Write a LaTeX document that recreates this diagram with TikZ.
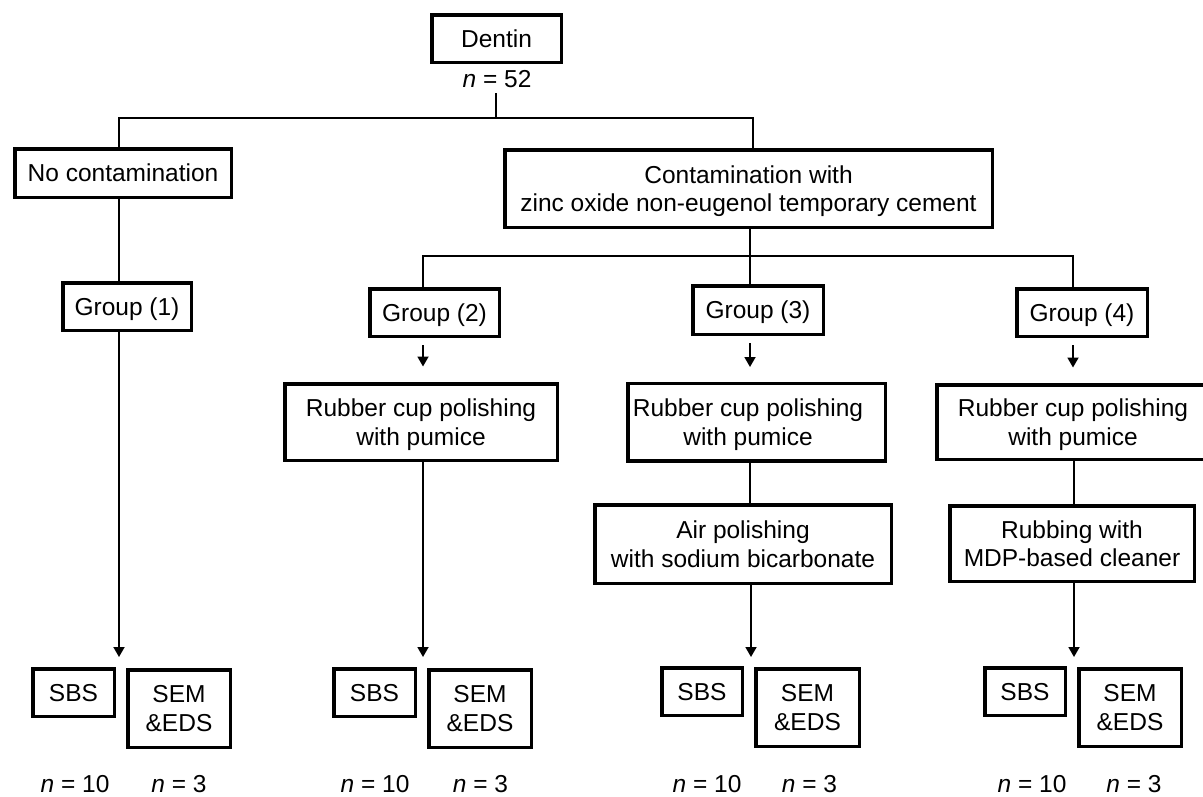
\documentclass[tikz,border=0pt]{standalone}
\usepackage{fontspec}
\setmainfont{Liberation Sans}
\usetikzlibrary{arrows.meta,calc}
\begin{document}
\begin{tikzpicture}[x=1pt,y=-1pt,
  box/.style={draw,line width=3.5pt,inner sep=0pt,align=center,rectangle,
    text depth=0pt,font=\fontsize{24.5}{28.5}\selectfont},
  one/.style={text height=17.5pt},
  txt/.style={inner sep=0pt,align=center,text depth=0pt,
    font=\fontsize{24.5}{28.5}\selectfont},
  lbl/.style={inner sep=0pt,anchor=base,font=\fontsize{24.5}{28.5}\selectfont},
  conn/.style={line width=1.8pt},
  arr/.style={conn,-{Triangle[length=10pt,width=11pt]}}]
\fill[white] (0,0) rectangle (1203,796);
\clip (0,0) rectangle (1203,796);
% top
\node[box,one,minimum width=129.5pt,minimum height=47.5pt] (dentin) at (496.5,38.5) {Dentin};
\node[lbl] (n52) at (497,87) {\textit{n} = 52};
\node[box,one,minimum width=216.5pt,minimum height=48.5pt] (nocont) at (123,173) {No contamination};
\node[box,minimum width=487.5pt,minimum height=77.5pt] (cont) at (748.5,188.5) {Contamination with\\zinc oxide non-eugenol temporary cement};
% groups
\node[box,one,minimum width=128.5pt,minimum height=47.5pt] (g1) at (127,306.5) {Group (1)};
\node[box,one,minimum width=129.5pt,minimum height=47.5pt] (g2) at (434.5,312.5) {Group (2)};
\node[box,one,minimum width=130.5pt,minimum height=48.5pt] (g3) at (758,310) {Group (3)};
\node[box,one,minimum width=130.5pt,minimum height=47.5pt] (g4) at (1082,312.5) {Group (4)};
% treatments
\node[box,minimum width=272.5pt,minimum height=76.5pt] (r2) at (421,422) {Rubber cup polishing\\with pumice};
\node[box,minimum width=257.5pt,minimum height=77.5pt] (r3) at (756.5,422) {};
\node[txt] (r3t) at (748,422) {Rubber cup polishing\\with pumice};
\node[box,minimum width=272.5pt,minimum height=74.5pt] (r4) at (1073,422) {Rubber cup polishing\\with pumice};
\node[box,minimum width=296.5pt,minimum height=78.5pt] (air) at (743,544) {Air polishing\\with sodium bicarbonate};
\node[box,minimum width=244.5pt,minimum height=75.5pt] (rub) at (1072,543.5) {Rubbing with\\MDP-based cleaner};
% outcomes
\node[box,one,minimum width=81.5pt,minimum height=47.5pt] (sbs1) at (73.5,692.5) {SBS};
\node[box,minimum width=102.5pt,minimum height=77.5pt] (sem1) at (179,708.5) {SEM\\\&EDS};
\node[box,one,minimum width=81.5pt,minimum height=47.5pt] (sbs2) at (374.5,692.5) {SBS};
\node[box,minimum width=102.5pt,minimum height=77.5pt] (sem2) at (480,708.5) {SEM\\\&EDS};
\node[box,one,minimum width=80.5pt,minimum height=47.5pt] (sbs3) at (702,691.5) {SBS};
\node[box,minimum width=103.5pt,minimum height=77.5pt] (sem3) at (807.5,707.5) {SEM\\\&EDS};
\node[box,one,minimum width=80.5pt,minimum height=47.5pt] (sbs4) at (1025,691.5) {SBS};
\node[box,minimum width=102.5pt,minimum height=77.5pt] (sem4) at (1130,707.5) {SEM\\\&EDS};
% n labels
\node[lbl] (na1) at (75,792) {\textit{n} = 10};
\node[lbl] (nb1) at (179,792) {\textit{n} = 3};
\node[lbl] (na2) at (375,792) {\textit{n} = 10};
\node[lbl] (nb2) at (480.5,792) {\textit{n} = 3};
\node[lbl] (na3) at (707,792) {\textit{n} = 10};
\node[lbl] (nb3) at (809.5,792) {\textit{n} = 3};
\node[lbl] (na4) at (1032,792) {\textit{n} = 10};
\node[lbl] (nb4) at (1134,792) {\textit{n} = 3};
% coordinates
\coordinate (busL) at (119,118);
\coordinate (busR) at (753,118);
\coordinate (bus2L) at (423,256);
\coordinate (bus2R) at (1073,256);
\coordinate (c3) at (750,256);
\coordinate (t1) at (119,657);
\coordinate (t2) at (423,657);
\coordinate (t3) at (751,657);
\coordinate (t4) at (1074,657);
% connectors
\draw[conn] ($(n52.base)+(-1,6)$) -- ($(n52.base |- busL)+(-1,0)$);
\draw[conn] (nocont.north -| busL) -- (busL) -- (busR) -- (cont.north -| busR);
\draw[conn] (nocont.south -| busL) -- (g1.north -| busL);
\draw[arr] (g1.south -| t1) -- (t1);
\draw[conn] (cont.south -| c3) -- (g3.north -| c3);
\draw[conn] (g2.north -| bus2L) -- (bus2L) -- (bus2R) -- (g4.north -| bus2R);
\draw[arr] ($(g2.south -| bus2L)+(0,7)$) -- ($(r2.north -| bus2L)+(0,-15.5)$);
\draw[arr] ($(g3.south -| c3)+(0,7)$) -- ($(r3.north -| c3)+(0,-14.5)$);
\draw[arr] ($(g4.south -| bus2R)+(0,7)$) -- ($(r4.north -| bus2R)+(0,-15.5)$);
\draw[arr] (r2.south -| t2) -- (t2);
\draw[conn] (r3.south -| c3) -- (air.north -| c3);
\draw[arr] (air.south -| t3) -- (t3);
\draw[conn] (r4.south -| t4) -- (rub.north -| t4);
\draw[arr] (rub.south -| t4) -- (t4);
\end{tikzpicture}
\end{document}
